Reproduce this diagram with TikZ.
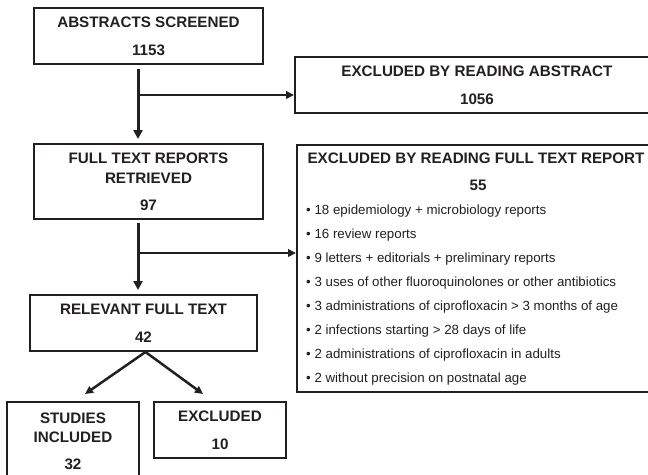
\documentclass[tikz,border=0pt]{standalone}
\usepackage{fontspec}
\setmainfont{Liberation Sans}
\usepackage{xcolor}
\usetikzlibrary{positioning,calc,arrows.meta}
\definecolor{ink}{HTML}{231F20}
\tikzset{
  box/.style={draw=ink, line width=2pt, inner sep=0pt, align=center, text=ink,
    font=\fontsize{15.2}{28}\selectfont\bfseries},
  item/.style={anchor=west, inner sep=0pt, text=ink, font=\fontsize{13.3}{16}\selectfont},
  main/.style={draw=ink, line width=3pt, -{Triangle[length=9pt,width=9pt]}},
  side/.style={draw=ink, line width=2pt, -{Triangle[length=8pt,width=7.5pt]}},
}
\begin{document}
\begin{tikzpicture}[x=1pt,y=-1pt]
    \useasboundingbox (0,0) rectangle (648,474);
    \clip (0,0) rectangle (648,474);
        % boxes
        \node[box, minimum width=229pt, minimum height=56pt] (abs) at (148.5,36) {ABSTRACTS SCREENED\\1153};
        \node[box, minimum width=364pt, minimum height=56pt] (exabs) at (477,85) {EXCLUDED BY READING ABSTRACT\\1056};
        \node[box, minimum width=229pt, minimum height=75pt, font=\fontsize{15.2}{20}\selectfont\bfseries] (full) at (148.5,181.5) {FULL TEXT REPORTS\\RETRIEVED\\[7pt]97};
        \node[box, minimum width=362pt, minimum height=247pt] (exfull) at (478,268.5) {};
        \node[box, draw=none] (exttl) at (476,158) {EXCLUDED BY READING FULL TEXT REPORT};
        \node[box, draw=none] (exnum) at (478,185) {55};
        \foreach \t [count=\i] in {18 epidemiology + microbiology reports,
            16 review reports,
            9 letters + editorials + preliminary reports,
            3 uses of other fluoroquinolones or other antibiotics,
            3 administrations of ciprofloxacin > 3 months of age,
            2 infections starting > 28 days of life,
            2 administrations of ciprofloxacin in adults,
            2 without precision on postnatal age}
            \node[item] (b\i) at (306,{211+24*(\i-1)}) {• \t};
        \node[box, minimum width=227pt, minimum height=56pt] (rel) at (143.5,323) {RELEVANT FULL TEXT\\42};
        \node[box, minimum width=132pt, minimum height=78pt, font=\fontsize{15.2}{19}\selectfont\bfseries] (inc) at (73,441) {STUDIES\\INCLUDED\\[8pt]32};
        \node[box, minimum width=132pt, minimum height=56pt] (exc) at (220,430) {EXCLUDED\\10};
        % connectors
        \coordinate (j1) at (138,95);
        \coordinate (j2) at (138,253);
        \draw[main, shorten <=4pt, shorten >=4pt] (abs.south -| j1) -- (full.north -| j1);
        \draw[side] (j1) -- (j1 -| exabs.west);
        \draw[main, shorten <=3pt, shorten >=4pt] (full.south -| j2) -- (rel.north -| j2);
        \draw[side] (j2) -- (j2 -| exfull.west);
        \draw[side, line width=2.5pt] ([xshift=2pt]rel.south) -- ([xshift=12pt,yshift=7pt]inc.north);
        \draw[side, line width=2.5pt] ([xshift=2pt]rel.south) -- ([xshift=-17pt,yshift=7pt]exc.north);
    \end{tikzpicture}
\end{document}
